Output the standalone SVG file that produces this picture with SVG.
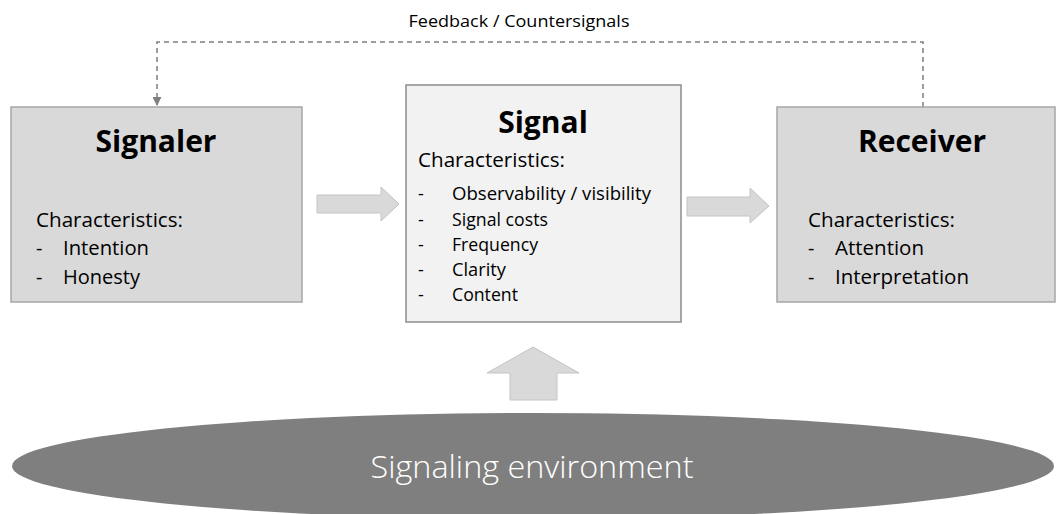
<svg xmlns="http://www.w3.org/2000/svg" width="1056" height="514" viewBox="0 0 1056 514">
<defs>
<style>
text{font-family:"Open Sans","Liberation Sans",sans-serif;fill:#000}
.title{font-size:30px;font-weight:700;text-anchor:middle}
.body{font-size:20px}
.item{font-size:18px}
.box{fill:#d9d9d9;stroke:#a6a6a6;stroke-width:1.5}
.sig{fill:#f2f2f2;stroke:#8c8c8c;stroke-width:1.5}
.arr{fill:#d9d9d9;stroke:#c4c4c4;stroke-width:1}
</style>
<marker id="ah" viewBox="0 0 10 10" refX="9" refY="5" markerWidth="9" markerHeight="9" markerUnits="userSpaceOnUse" orient="auto">
<path d="M0,0 L10,5 L0,10 Z" fill="#7f7f7f"/>
</marker>
</defs>
<rect width="1056" height="514" fill="#fff"/>

<g id="connectors">
<path d="M923,107 V42 H157 V105" fill="none" stroke="#7f7f7f" stroke-width="1.5" stroke-dasharray="5,4" marker-end="url(#ah)"/>
<text x="519" y="27" font-size="17" text-anchor="middle" fill="#262626" textLength="221" lengthAdjust="spacingAndGlyphs">Feedback / Countersignals</text>
<polygon class="arr" points="317,195 381,195 381,187 399,204 381,221 381,213 317,213"/>
<polygon class="arr" points="687,197 750,197 750,188 769,206 750,223 750,216 687,216"/>
<polygon class="arr" points="533,347 579,373 557,373 557,400 510,400 510,373 487,373"/>
</g>

<g id="signaler">
<rect class="box" x="11" y="107" width="291" height="195"/>
<text class="title" x="156" y="152">Signaler</text>
<text class="body" x="36" y="227" textLength="147" lengthAdjust="spacingAndGlyphs">Characteristics:</text>
<text class="body" x="36" y="255">-</text>
<text class="body" x="63" y="255" textLength="86" lengthAdjust="spacingAndGlyphs">Intention</text>
<text class="body" x="36" y="284">-</text>
<text class="body" x="63" y="284" textLength="77" lengthAdjust="spacingAndGlyphs">Honesty</text>
</g>

<g id="signal">
<rect class="sig" x="406" y="85" width="275" height="237"/>
<text class="title" x="543" y="133">Signal</text>
<text class="body" x="418" y="167" textLength="147" lengthAdjust="spacingAndGlyphs">Characteristics:</text>
<text class="item" x="418" y="200">-</text>
<text class="item" x="452" y="200" textLength="199" lengthAdjust="spacingAndGlyphs">Observability / visibility</text>
<text class="item" x="418" y="226">-</text>
<text class="item" x="452" y="226" textLength="96" lengthAdjust="spacingAndGlyphs">Signal costs</text>
<text class="item" x="418" y="251">-</text>
<text class="item" x="452" y="251" textLength="86" lengthAdjust="spacingAndGlyphs">Frequency</text>
<text class="item" x="418" y="276">-</text>
<text class="item" x="452" y="276" textLength="54" lengthAdjust="spacingAndGlyphs">Clarity</text>
<text class="item" x="418" y="301">-</text>
<text class="item" x="452" y="301" textLength="66" lengthAdjust="spacingAndGlyphs">Content</text>
</g>

<g id="receiver">
<rect class="box" x="777" y="107" width="278" height="195"/>
<text class="title" x="922" y="152">Receiver</text>
<text class="body" x="808" y="227" textLength="147" lengthAdjust="spacingAndGlyphs">Characteristics:</text>
<text class="body" x="808" y="255">-</text>
<text class="body" x="835" y="255" textLength="89" lengthAdjust="spacingAndGlyphs">Attention</text>
<text class="body" x="808" y="284">-</text>
<text class="body" x="835" y="284" textLength="134" lengthAdjust="spacingAndGlyphs">Interpretation</text>
</g>

<g id="environment">
<ellipse cx="533" cy="466" rx="521" ry="53" fill="#7f7f7f"/>
<text x="532" y="478" font-size="31" font-weight="300" text-anchor="middle" style="fill:#fff" textLength="323" lengthAdjust="spacingAndGlyphs">Signaling environment</text>
</g>
</svg>
